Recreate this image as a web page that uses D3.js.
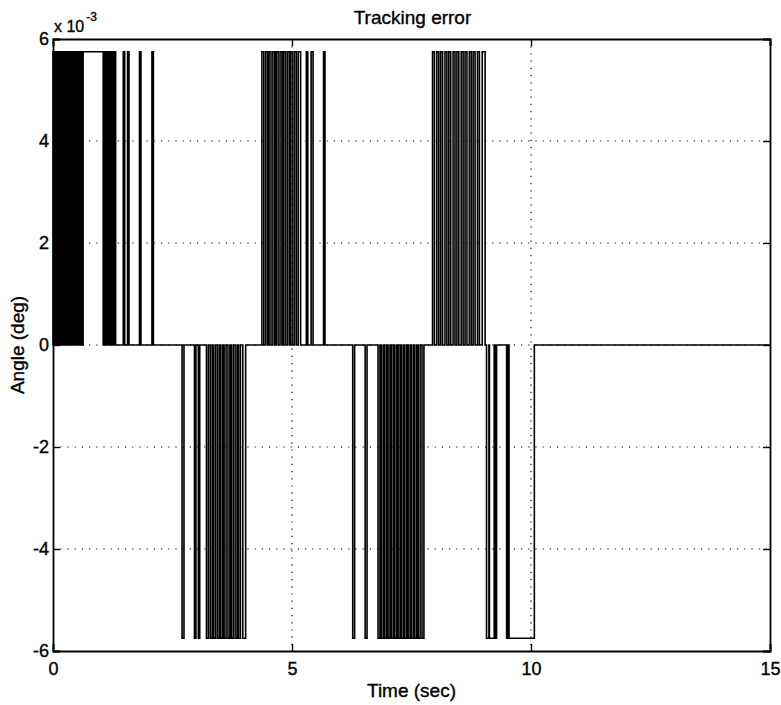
<!DOCTYPE html>
<html>
<head>
<meta charset="utf-8">
<script src="https://cdn.jsdelivr.net/npm/d3@7"></script>
<style>
  html, body { margin: 0; padding: 0; background: #fff; }
  svg text { font-family: "Liberation Sans", Arial, Helvetica, sans-serif; fill: #000; stroke: #000; stroke-width: 0.35px; }
</style>
</head>
<body>
<div id="chart"></div>
<script>
// ---- data ----
const xTicks = [0, 5, 10, 15];
const yTicks = [-6, -4, -2, 0, 2, 4, 6]; // in units of 1e-3
const level = 5.75; // pulse amplitude (x 1e-3 deg)

// positive pulses (start, end) in seconds
const posStart = [0.00, 0.04, 0.08, 0.13, 0.17, 0.21, 0.25, 0.29, 0.33, 0.39, 0.43, 0.47, 0.51, 0.56, 0.60,
                  0.63, 1.08, 1.13, 1.18, 1.23, 1.28, 1.47, 1.56, 1.81, 2.07,
                  4.37, 4.45, 4.52, 4.60, 4.67, 4.75, 4.82, 4.90, 4.97, 5.05, 5.13, 5.30, 5.40, 5.66,
                  7.94, 8.03, 8.11, 8.20, 8.28, 8.37, 8.45, 8.54, 8.62, 8.71, 8.79, 8.88, 8.98];
const posEnd   = [0.02, 0.06, 0.10, 0.15, 0.19, 0.23, 0.27, 0.31, 0.36, 0.41, 0.45, 0.49, 0.54, 0.58, 0.62,
                  1.05, 1.11, 1.16, 1.21, 1.26, 1.31, 1.50, 1.59, 1.84, 2.10,
                  4.41, 4.49, 4.56, 4.64, 4.71, 4.79, 4.86, 4.94, 5.01, 5.09, 5.18, 5.33, 5.44, 5.69,
                  7.98, 8.07, 8.15, 8.24, 8.32, 8.41, 8.49, 8.58, 8.66, 8.75, 8.83, 8.92, 9.04];
// negative pulses (start, end) in seconds
const negStart = [2.70, 2.96, 3.04, 3.21, 3.29, 3.36, 3.44, 3.51, 3.58, 3.66, 3.73, 3.81, 3.88, 3.97,
                  6.27, 6.53, 6.80, 6.87, 6.94, 7.01, 7.08, 7.15, 7.22, 7.29, 7.36, 7.43, 7.50, 7.57, 7.64, 7.72,
                  9.07, 9.13, 9.26, 9.49, 9.54];
const negEnd   = [2.74, 2.99, 3.07, 3.25, 3.33, 3.40, 3.48, 3.55, 3.62, 3.70, 3.77, 3.85, 3.92, 4.03,
                  6.31, 6.57, 6.84, 6.91, 6.98, 7.05, 7.12, 7.19, 7.26, 7.33, 7.40, 7.47, 7.54, 7.61, 7.68, 7.76,
                  9.12, 9.23, 9.28, 9.52, 10.07];

// ---- layout ----
const W = 781, H = 705;
const m = { left: 53, right: 11, top: 39, bottom: 54 };
const iw = W - m.left - m.right, ih = H - m.top - m.bottom;

const svg = d3.select("#chart").append("svg").attr("width", W).attr("height", H);
const g = svg.append("g").attr("transform", `translate(${m.left},${m.top})`);

const x = d3.scaleLinear().domain([0, 15]).range([0, iw]);
const y = d3.scaleLinear().domain([-6, 6]).range([ih, 0]);

// grid (dotted)
g.append("g").selectAll("line").data(xTicks.filter(d => d > 0 && d < 15)).join("line")
  .attr("x1", d => x(d)).attr("x2", d => x(d)).attr("y1", 0).attr("y2", ih)
  .attr("stroke", "#000").attr("stroke-width", 1.2).attr("stroke-dasharray", "1.2,6");
g.append("g").selectAll("line").data(yTicks.filter(d => d > -6 && d < 6)).join("line")
  .attr("y1", d => y(d)).attr("y2", d => y(d)).attr("x1", 0).attr("x2", iw)
  .attr("stroke", "#000").attr("stroke-width", 1.2).attr("stroke-dasharray", "1.2,6");

// signal path
const pulses = [];
posStart.forEach((s, i) => pulses.push({ s, e: posEnd[i], v: level }));
negStart.forEach((s, i) => pulses.push({ s, e: negEnd[i], v: -level }));
pulses.sort((a, b) => a.s - b.s);
const pts = [];
pulses.forEach(p => {
  pts.push([p.s, 0], [p.s, p.v], [p.e, p.v], [p.e, 0]);
});
pts.push([15, 0]);
const line = d3.line().x(d => x(d[0])).y(d => y(d[1]));
g.append("path").datum(pts).attr("d", line)
  .attr("fill", "none").attr("stroke", "#000").attr("stroke-width", 1.6)
  .attr("stroke-linejoin", "miter");

// axes (box with inward ticks)
const fs = 18;
const fmt = d => String(d);
const xb = g.append("g").attr("transform", `translate(0,${ih})`)
  .call(d3.axisBottom(x).tickValues(xTicks).tickSize(-7).tickPadding(12).tickFormat(fmt));
const xt = g.append("g")
  .call(d3.axisTop(x).tickValues(xTicks).tickSize(-7).tickFormat(""));
const yl = g.append("g")
  .call(d3.axisLeft(y).tickValues(yTicks).tickSize(-7).tickPadding(12).tickFormat(fmt));
const yr = g.append("g").attr("transform", `translate(${iw},0)`)
  .call(d3.axisRight(y).tickValues(yTicks).tickSize(-7).tickFormat(""));
[xb, xt, yl, yr].forEach(a => {
  a.select(".domain").attr("stroke", "#000").attr("stroke-width", 1.8);
  a.selectAll(".tick line").attr("stroke", "#000").attr("stroke-width", 1.4);
  a.selectAll("text").attr("font-size", fs).attr("font-family", "Liberation Sans, Arial, sans-serif").attr("fill", "#000");
});
xb.selectAll("text").attr("dy", "0.71em").attr("y", 11);
yl.selectAll("text").attr("x", -4);

// exponent label
const ex = svg.append("text").attr("x", m.left + 1).attr("y", 32).attr("font-size", 16);
ex.append("tspan").text("x 10");
ex.append("tspan").attr("font-size", 12).attr("dy", -11).attr("dx", 2).text("-3");

// title and axis labels
svg.append("text").attr("x", m.left + iw / 2 + 1).attr("y", 24).attr("text-anchor", "middle")
  .attr("font-size", 19).text("Tracking error");
svg.append("text").attr("x", m.left + iw / 2).attr("y", 697).attr("text-anchor", "middle")
  .attr("font-size", 19).text("Time (sec)");
svg.append("text").attr("transform", `translate(24,${m.top + ih / 2}) rotate(-90)`)
  .attr("text-anchor", "middle").attr("font-size", 19).text("Angle (deg)");
</script>
</body>
</html>
